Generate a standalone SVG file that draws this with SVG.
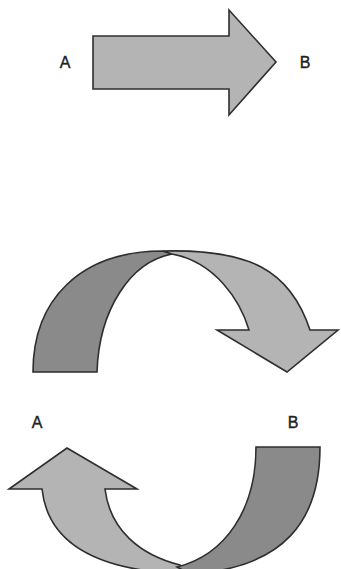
<svg xmlns="http://www.w3.org/2000/svg" width="341" height="569" viewBox="0 0 341 569">
<style>
.light{fill:#b4b4b4;stroke:#2e2e2e;stroke-width:1.6;stroke-linejoin:miter}
.dark{fill:#8a8a8a;stroke:#2e2e2e;stroke-width:1.6;stroke-linejoin:miter}
.lbl{font-family:"Liberation Sans",Arial,sans-serif;font-size:16px;fill:#222;stroke:#222;stroke-width:0.4;text-anchor:middle}
</style>
<rect width="341" height="569" fill="#ffffff"/>
<g id="straight-arrow">
<path class="light" d="M93,36 L229,36 L229,10 L276,62 L229,115 L229,89 L93,89 Z"/>
</g>
<g id="label-top-A"><text class="lbl" x="65" y="68">A</text></g>
<g id="label-top-B"><text class="lbl" x="305" y="68">B</text></g>
<g id="upper-curve">
<path class="dark" d="M33,372 L97,372 C99,310 130,262 172,254 L163,251 C80,251 33,300 33,372 Z"/>
<path class="light" d="M163,251 C250,249 290,270 310,330 L338,330 L287,372 L217,330 L249,330 C240,300 215,262 172,254 Z"/>
</g>
<g id="label-bottom-A"><text class="lbl" x="37" y="428">A</text></g>
<g id="label-bottom-B"><text class="lbl" x="293" y="428">B</text></g>
<g id="lower-curve">
<path class="light" d="M105,489 L137,489 L67,448 L9,489 L42,489 C48,545 100,572 190,574 L180,565 C140,555 110,530 105,489 Z"/>
<path class="dark" d="M256,447 L320,447 C320,520 285,568 190,574 L177,567 C225,555 256,510 256,447 Z"/>
</g>
</svg>
